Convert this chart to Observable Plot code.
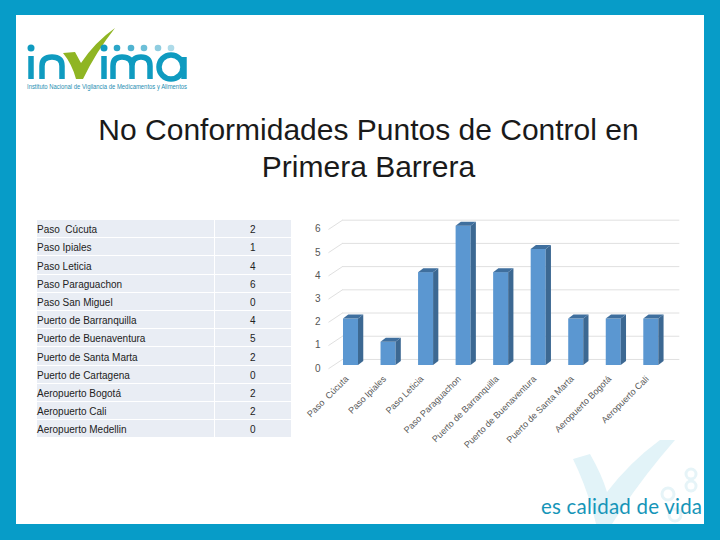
<!DOCTYPE html>
<html><head><meta charset="utf-8">
<script src="https://cdn.jsdelivr.net/npm/d3@7"></script>
<script src="https://cdn.jsdelivr.net/npm/@observablehq/plot@0.6"></script>
<style>
html,body{margin:0;padding:0;background:#079cc8}
#page{position:relative;width:720px;height:540px;overflow:hidden;font-family:"Liberation Sans",Arial,sans-serif}
#sheet{position:absolute;left:16px;top:15px;width:688px;height:509px;background:#fff}
#deco{position:absolute;left:0;top:0}
#title{position:absolute;left:16px;width:705px;top:111px;text-align:center;font-size:30px;line-height:37px;color:#1a1a1a;white-space:nowrap}
#tbl{position:absolute;left:37px;top:220px;width:254px;border-collapse:collapse;table-layout:fixed;font-size:10px;color:#222}
#tbl td{background:#e9edf4;height:14.2px;padding:3px 0 0 0;border:solid #fff;border-width:0 0 1px 0;line-height:14px;vertical-align:bottom}
#tbl td:first-child{width:177px;border-right:1.2px solid #fff;box-sizing:border-box}
#tbl td:last-child{text-align:center}
#chart{position:absolute;left:0;top:0}
#chart svg{background:transparent}
#slogan{position:absolute;left:541px;top:494px;font-family:Lato,sans-serif;font-size:20.5px;color:#1695b8;white-space:nowrap;letter-spacing:.22px}
</style></head><body>
<div id="page">
<div id="sheet"></div>
<svg id="deco" width="720" height="540">
  <path d="M573 459 L590 454 Q602 475 607 492 Q630 462 660 440 L675 440 Q640 480 612 524 L596 524 Q588 490 573 459Z" fill="#e2f3f8"/>
  <g fill="none" stroke="#e6f4f8" stroke-width="3">
    <circle cx="691" cy="474" r="5"/><circle cx="691" cy="486" r="5"/><circle cx="668" cy="494" r="6"/><circle cx="675" cy="515" r="6"/>
  </g>
  <g fill="none" stroke="#0f9bc0" stroke-width="5.5">
    <path d="M31 56V79"/>
    <path d="M42 79V66Q42 57 52 57Q62 57 62 66V79"/>
    <path d="M104 56V79"/>
    <path d="M113 79V66Q113 57 122 57Q132 57 132 66V79M132 66Q132 57 141 57Q150 57 150 66V79"/>
    <circle cx="171" cy="67" r="12"/>
    <path d="M184 57V79"/>
  </g>
  <path d="M63 53L75 52L81 63Q95 42 115 28Q96 52 83 79L76 79Q72 64 63 53Z" fill="#8fb523"/>
  <g>
    <circle cx="31" cy="48" r="3.5" fill="#0f9bc0"/>
    <circle cx="104" cy="48" r="3.5" fill="#0f9bc0"/>
    <circle cx="117" cy="48" r="3.3" fill="#2ba6c8"/>
    <circle cx="131" cy="48" r="3.3" fill="#4fb3d0"/>
    <circle cx="144" cy="48" r="3.3" fill="#6dbfd8"/>
    <circle cx="158" cy="48" r="3.3" fill="#8fcde0"/>
    <circle cx="171" cy="48" r="3.3" fill="#aedbe9"/>
  </g>
  <text x="27" y="89" font-family="Liberation Sans" font-size="6.6" fill="#1f8fb2" textLength="160" lengthAdjust="spacingAndGlyphs">Instituto Nacional de Vigilancia de Medicamentos y Alimentos</text>
</svg>
<div id="title">No Conformidades Puntos de Control en<br>Primera Barrera</div>
<table id="tbl"><tbody></tbody></table>
<div id="chart"></div>
<div id="slogan">es calidad de vida</div>
</div>
<script>
const places = ["Paso  Cúcuta","Paso Ipiales","Paso Leticia","Paso Paraguachon","Paso San Miguel","Puerto de Barranquilla","Puerto de Buenaventura","Puerto de Santa Marta","Puerto de Cartagena","Aeropuerto Bogotá","Aeropuerto Cali","Aeropuerto Medellin"];
const counts = [2,1,4,6,0,4,5,2,0,2,2,0];
const yTicks = [0,1,2,3,4,5,6];

// chart shows only the rows with a non-zero count
const chartRows = places.map((name,k)=>({name,value:counts[k]})).filter(d=>d.value>0);
const idx = chartRows.map((d,i)=>i);

const tb = document.querySelector("#tbl tbody");
places.forEach((p,k)=>{
  const tr=document.createElement("tr");
  const a=document.createElement("td");a.textContent=p;a.style.whiteSpace="pre";
  const b=document.createElement("td");b.textContent=counts[k];
  tr.append(a,b);tb.append(tr);
});

const halfW=0.2, depthX=0.14, depthY=0.17, wallY=0.26;
const sideData=chartRows.flatMap((d,i)=>[
  {i,x:i+halfW,y1:0,y2:d.value},
  {i,x:i+halfW+depthX,y1:depthY,y2:d.value+depthY}]);
const topData=chartRows.flatMap((d,i)=>[
  {i,y:d.value,x1:i-halfW,x2:i+halfW},
  {i,y:d.value+depthY,x1:i-halfW+depthX,x2:i+halfW+depthX}]);

const chart=Plot.plot({
  width:720,height:540,
  marginTop:0,marginRight:0,marginLeft:322,marginBottom:170,
  style:{background:"transparent",fontFamily:"Liberation Sans, Arial, sans-serif"},
  x:{type:"linear",domain:[0,8],range:[350.5,650.8]},
  y:{type:"linear",domain:[0,6],range:[365,225.7]},
  marks:[
    Plot.ruleY(yTicks,{y:d=>d+wallY,x1:-0.227,x2:8.76,stroke:"#e0e0e0",strokeWidth:1}),
    Plot.link(yTicks,{x1:-0.6,y1:d=>d-0.14,x2:-0.227,y2:d=>d+wallY,stroke:"#e0e0e0",strokeWidth:1}),
    Plot.rectY(chartRows,{x1:(d,i)=>i-halfW,x2:(d,i)=>i+halfW,y1:0,y2:"value",fill:"#5b97d1",inset:0}),
    Plot.areaY(sideData,{x:"x",y1:"y1",y2:"y2",z:"i",fill:"#3c6892"}),
    Plot.areaX(topData,{y:"y",x1:"x1",x2:"x2",z:"i",fill:"#3f6f9e"}),
    Plot.axisY({ticks:yTicks,tickFormat:"d",anchor:"left",tickSize:0,tickPadding:2,label:null,fontSize:10,color:"#555",dy:3,textStroke:"none"}),
    Plot.axisX({ticks:idx,tickFormat:i=>chartRows[i].name,tickRotate:-45,tickSize:0,tickPadding:6,label:null,fontSize:9,color:"#595959",anchor:"bottom",dx:-4,dy:1})
  ]
});
document.getElementById("chart").append(chart);
</script>
</body></html>
